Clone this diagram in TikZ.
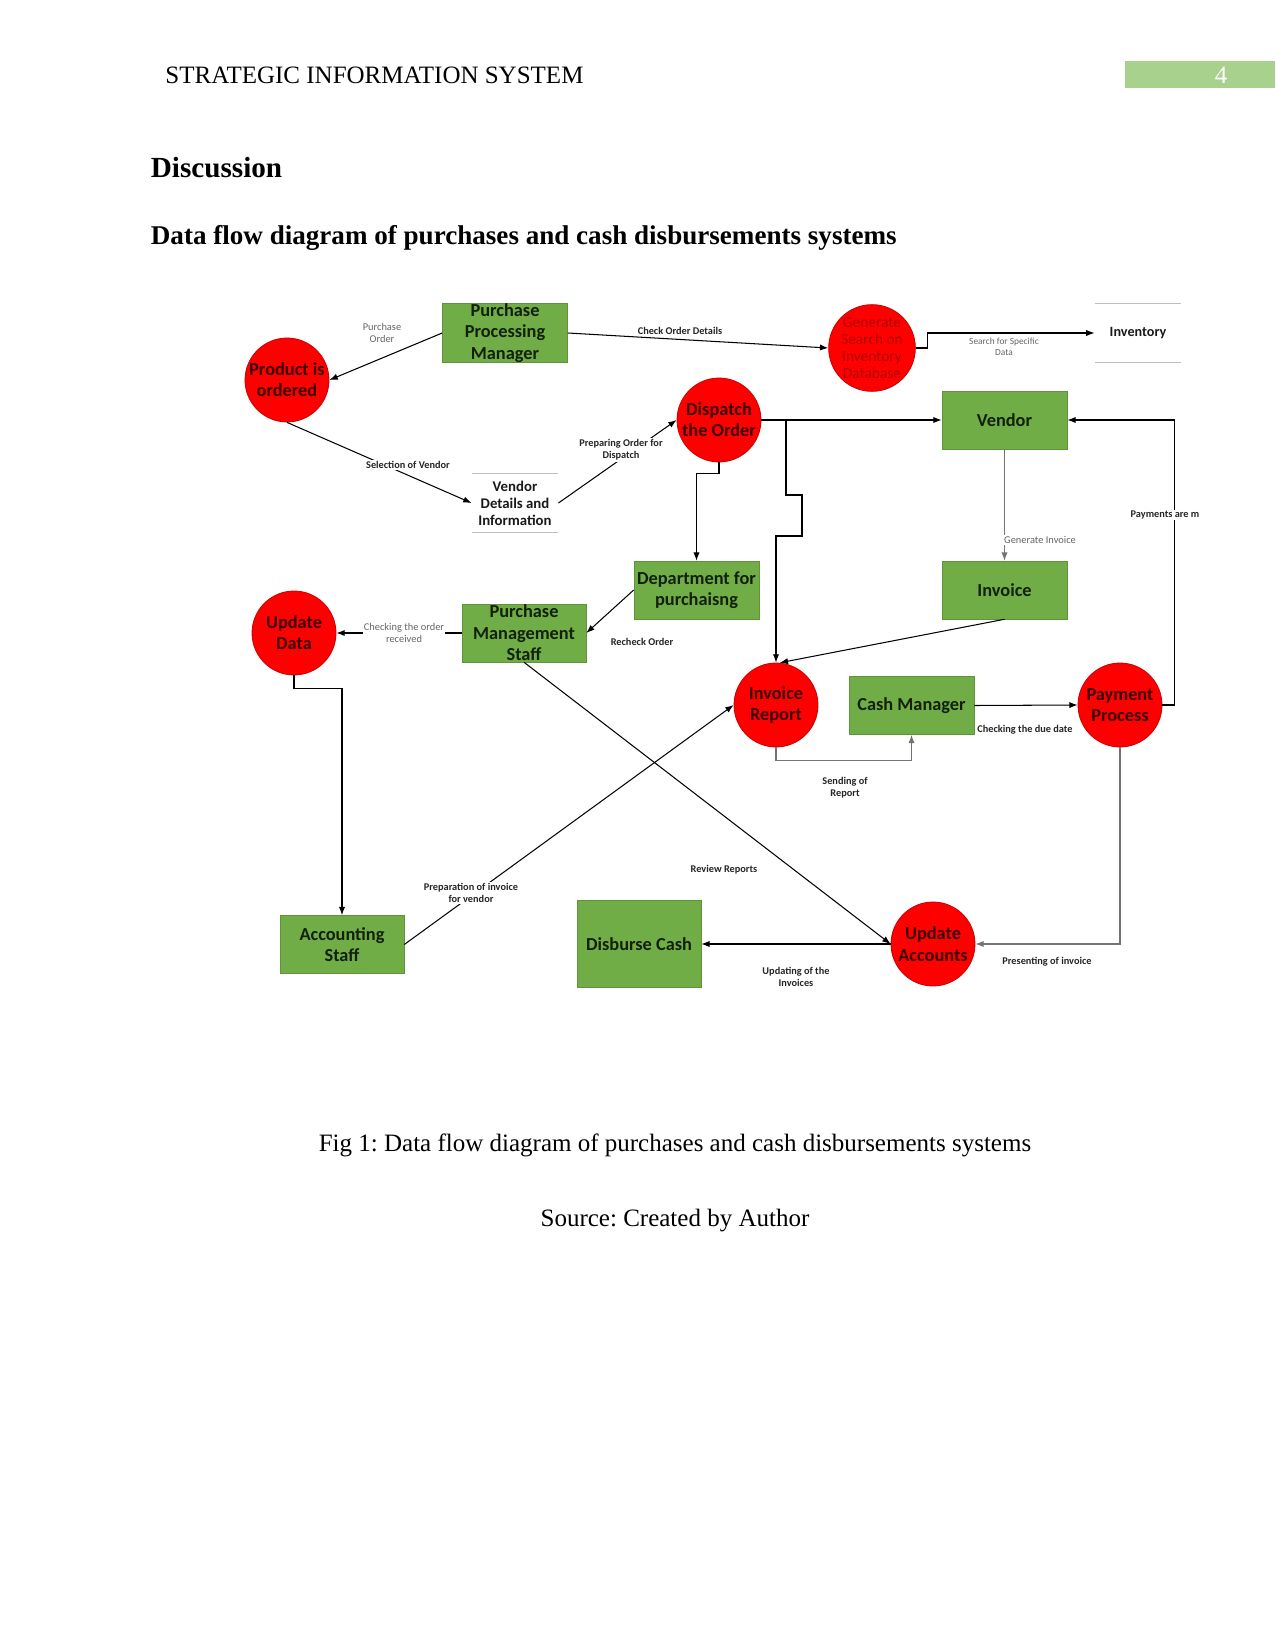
\documentclass[tikz,border=0pt]{standalone}
\usepackage{fontspec}
\setmainfont{Liberation Serif}
\newfontfamily\carl{Carlito}
\usetikzlibrary{arrows.meta}
\frenchspacing
\definecolor{boxgreen}{HTML}{70AD47}
\definecolor{procred}{HTML}{FF0000}
\definecolor{headgreen}{HTML}{A9D18E}
\definecolor{boxtext}{HTML}{13200C}
\definecolor{proctext}{HTML}{3A0000}
\definecolor{gentext}{HTML}{B00000}
\definecolor{storeline}{HTML}{BFBFBF}
\begin{document}
\begin{tikzpicture}[x=0.48pt,y=-0.48pt,
  box/.style={rectangle, fill=boxgreen, draw=boxgreen!85!black, line width=0.3pt,
    inner sep=0pt, minimum width=60pt, minimum height=27.8pt, align=center,
    font=\carl\bfseries\fontsize{8.8}{10.3}\selectfont, text=boxtext},
  proc/.style={circle, fill=procred, draw=procred!80!black, line width=0.4pt,
    minimum size=40.3pt, inner sep=0pt, align=center,
    font=\carl\bfseries\fontsize{8.8}{10.2}\selectfont, text=proctext},
  store/.style={rectangle, inner sep=0pt, minimum width=41.3pt, minimum height=27.8pt,
    align=center, font=\carl\bfseries\fontsize{7.1}{8.1}\selectfont, text=black!90},
  sline/.style={draw=storeline, line width=0.5pt},
  flow/.style={-{Latex[length=4pt,width=3pt]}, line width=0.5pt},
  gflow/.style={flow, draw=black!55},
  lbl/.style={fill=white, inner sep=0.6pt, align=center, text=black!85,
    font=\carl\bfseries\fontsize{4.95}{5.9}\selectfont},
  glbl/.style={lbl, text=black!60, font=\carl\fontsize{5}{5.9}\selectfont}
]
\useasboundingbox (0,0) rectangle (1275,1651);

% page furniture
\node[anchor=base west, inner sep=0pt, font=\fontsize{12}{14}\selectfont] (hdr) at (165,84) {STRATEGIC INFORMATION SYSTEM};
\node[fill=headgreen, inner sep=0pt, minimum width=72pt, minimum height=13pt] (pgbox) at (1200,74.5) {};
\node[inner sep=0pt, text=white, font=\fontsize{12}{14}\selectfont] (pgnum) at (1221,75) {4};
\node[anchor=base west, inner sep=0pt, font=\bfseries\fontsize{14}{16}\selectfont] (disc) at (150.5,178) {Discussion};
\node[anchor=base west, inner sep=0pt, font=\bfseries\fontsize{13}{15}\selectfont] (ttl) at (150.5,245) {Data flow diagram of purchases and cash disbursements systems};
\node[anchor=base, inner sep=0pt, font=\fontsize{12}{14}\selectfont] (cap) at (675,1151) {Fig 1: Data flow diagram of purchases and cash disbursements systems};
\node[anchor=base, inner sep=0pt, font=\fontsize{12}{14}\selectfont] (src) at (675,1226) {Source: Created by Author};

% processes
\node[proc] (prod) at (287,380) {Product is\\ordered};
\node[proc, font=\carl\fontsize{7.4}{8.2}\selectfont, text=gentext] (gen) at (872,348) {Generate\\Search on\\Inventory\\Database};
\node[proc] (disp) at (719,420) {Dispatch\\the Order};
\node[proc] (ud) at (294,633) {Update\\Data};
\node[proc] (ir) at (776,705) {Invoice\\Report};
\node[proc] (pp) at (1120,705) {Payment\\Process};
\node[proc] (ua) at (933,944) {Update\\Accounts};

% entities
\node[box] (ppm) at (505,333) {Purchase\\Processing\\Manager};
\node[box] (ven) at (1004.5,420) {Vendor};
\node[box] (dept) at (696.5,590) {Department for\\purchaisng};
\node[box] (inv) at (1004.5,590) {Invoice};
\node[box, minimum width=59.5pt] (pms) at (524,633) {Purchase\\Management\\Staff};
\node[box] (cm) at (911.5,705.5) {Cash Manager};
\node[box, minimum width=59.5pt] (acc) at (342,944.5) {Accounting\\Staff};
\node[box, minimum width=59.5pt, minimum height=41.8pt] (dc) at (639,944) {Disburse Cash};

% stores
\node[store] (vd) at (515,503) {Vendor\\Details and\\Information};
\draw[sline] (vd.north west) -- (vd.north east);
\draw[sline] (vd.south west) -- (vd.south east);
\node[store, font=\carl\bfseries\fontsize{6.8}{7.8}\selectfont] (invs) at (1138,333) {Inventory};
\draw[sline] (invs.north west) -- (invs.north east);
\draw[sline] (invs.south west) -- (invs.south east);

% flows
\draw[flow] (ppm.west) -- (prod.east);
\draw[flow] (ppm.east) -- (gen.west);
\draw[flow] (gen.east) -- ++(12,0) |- (invs.west);
\draw[flow] (prod.south) -- (vd.west);
\draw[flow] (vd.east) -- (disp.west);
\draw[flow] (disp.east) -- (ven.west);
\draw[flow] (disp.south) -- ++(0,11) -| (dept.north);
\coordinate (j1) at (786,420);
\draw[flow] (j1) -- (786,495) -- (802,495) -- (802,536) -- (776,536) -- (ir.north);
\draw[gflow] (ven.south) -- (inv.north);
\draw[flow] (inv.south) -- (ir.85);
\draw[flow] (dept.west) -- (pms.east);
\draw[flow] (pms.west) -- (ud.east);
\draw[flow] (ud.south) -- ++(0,13) -| (acc.north);
\draw[flow] (acc.east) -- (ir.west);
\draw[flow] (pms.south) -- (ua.west);
\draw[gflow] (ir.south) -- ++(0,13) -| (cm.south);
\draw[flow] (cm.east) -- (pp.west);
\draw[flow] (pp.east) -- ++(12,0) |- (ven.east);
\draw[gflow] (pp.south) |- (ua.east);
\draw[flow] (ua.west) -- (dc.east);

% labels
\node[glbl] (l1) at (382,333) {Purchase\\Order};
\node[lbl] (l2) at (680,331) {Check Order Details};
\node[glbl, font=\carl\fontsize{4.5}{5.4}\selectfont] (l3) at (1004,347) {Search for Specific\\Data};
\node[lbl] (l4) at (408,465) {Selection of Vendor};
\node[lbl] (l5) at (621,450) {Preparing Order for\\Dispatch};
\node[glbl] (l6) at (1040,540) {Generate Invoice};
\node[lbl] (l7) at (1165,515) {Payments are m};
\node[lbl] (l8) at (642,642) {Recheck Order};
\node[glbl] (l9) at (404,633) {Checking the order\\received};
\node[lbl] (l10) at (1025,730) {Checking the due date};
\node[lbl] (l11) at (845,788) {Sending of\\Report};
\node[lbl] (l12) at (724,870) {Review Reports};
\node[lbl] (l13) at (471,893) {Preparation of invoice\\for vendor};
\node[lbl] (l14) at (796,977) {Updating of the\\Invoices};
\node[lbl] (l15) at (1047,962) {Presenting of invoice};
\end{tikzpicture}
\end{document}
